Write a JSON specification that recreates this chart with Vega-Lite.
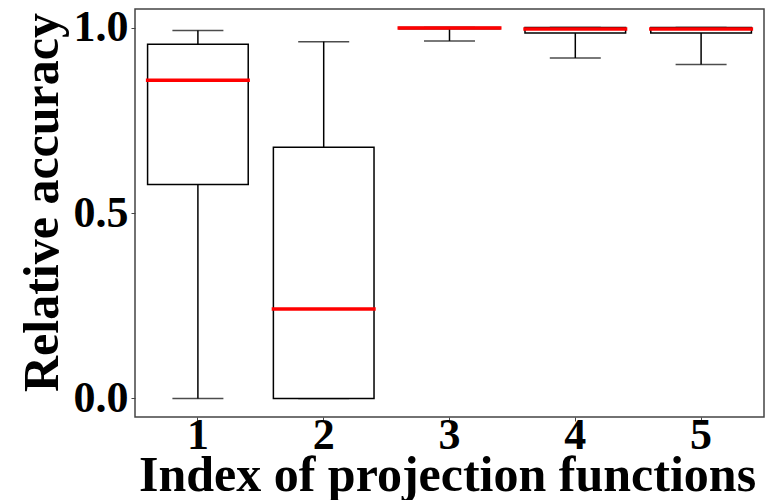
{
  "$schema": "https://vega.github.io/schema/vega-lite/v6.json",
  "width": 629,
  "height": 408,
  "autosize": {"type": "none"},
  "padding": {"left": 135, "top": 9, "right": 5, "bottom": 83},
  "background": "white",
  "data": {
    "values": [
      {"idx": "1", "low": 0.0, "q1": 0.577, "median": 0.858, "q3": 0.955, "high": 0.992},
      {"idx": "2", "low": 0.0, "q1": 0.0, "median": 0.241, "q3": 0.677, "high": 0.962},
      {"idx": "3", "low": 0.964, "q1": 0.997, "median": 0.999, "q3": 1.0, "high": 1.0},
      {"idx": "4", "low": 0.918, "q1": 0.985, "median": 0.996, "q3": 1.0, "high": 1.0},
      {"idx": "5", "low": 0.9005, "q1": 0.985, "median": 0.996, "q3": 1.0, "high": 1.0}
    ]
  },
  "encoding": {
    "x": {
      "field": "idx",
      "type": "ordinal",
      "scale": {"paddingInner": 0.2, "paddingOuter": 0.1},
      "axis": {
        "title": "Index of projection functions",
        "labelAngle": 0,
        "labelBaseline": "alphabetic",
        "labelPadding": 27,
        "tickSize": 4,
        "titleBaseline": "alphabetic",
        "titleY": 73,
        "titleX": 312,
        "titleAnchor": "middle"
      }
    }
  },
  "layer": [
    {
      "mark": {"type": "rule", "color": "black", "strokeWidth": 1.5},
      "encoding": {
        "y": {
          "field": "low",
          "type": "quantitative",
          "scale": {"domain": [-0.05, 1.05], "nice": false, "zero": false},
          "axis": {
            "title": "Relative accuracy",
            "values": [0, 0.5, 1],
            "format": ".1f",
            "tickSize": 4,
            "labelPadding": 3,
            "titleBaseline": "alphabetic",
            "titleAngle": 270,
            "titleAlign": "center",
            "titleX": -78,
            "titleY": 193
          }
        },
        "y2": {"field": "q1"}
      }
    },
    {
      "mark": {"type": "rule", "color": "black", "strokeWidth": 1.5},
      "encoding": {
        "y": {"field": "q3", "type": "quantitative"},
        "y2": {"field": "high"}
      }
    },
    {
      "mark": {"type": "tick", "color": "black", "size": 51, "thickness": 1.5},
      "encoding": {"y": {"field": "low", "type": "quantitative"}}
    },
    {
      "mark": {"type": "tick", "color": "black", "size": 51, "thickness": 1.5},
      "encoding": {"y": {"field": "high", "type": "quantitative"}}
    },
    {
      "mark": {"type": "bar", "fill": "white", "stroke": "black", "strokeWidth": 1.5},
      "encoding": {
        "y": {"field": "q1", "type": "quantitative"},
        "y2": {"field": "q3"}
      }
    },
    {
      "mark": {"type": "tick", "color": "red", "size": 104, "thickness": 3.5, "opacity": 1},
      "encoding": {"y": {"field": "median", "type": "quantitative"}}
    }
  ],
  "config": {
    "view": {"stroke": "#444", "strokeWidth": 1.5},
    "axis": {
      "grid": false,
      "domain": false,
      "tickColor": "#444",
      "labelFont": "Liberation Serif",
      "labelFontWeight": "bold",
      "labelFontSize": 44,
      "labelColor": "black",
      "titleFont": "Liberation Serif",
      "titleFontWeight": "bold",
      "titleFontSize": 50,
      "titleColor": "black"
    }
  }
}
